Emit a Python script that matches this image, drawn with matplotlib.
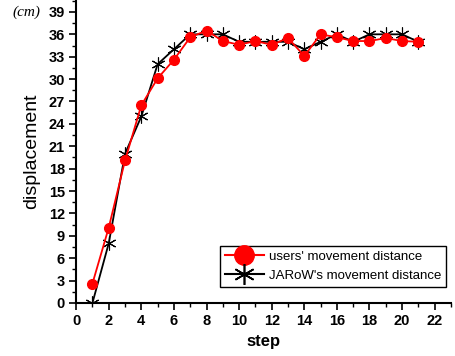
import matplotlib.pyplot as plt
from matplotlib.lines import Line2D
from matplotlib.ticker import MultipleLocator

# step numbers
steps = list(range(1, 22))
# users' movement distance (cm)
users = [2.6, 10.1, 19.1, 26.5, 30.1, 32.6, 35.6, 36.5, 35.1, 34.6, 35.1,
         34.6, 35.5, 33.1, 36.0, 35.6, 35.1, 35.1, 35.5, 35.1, 35.0]
# JARoW's movement distance (cm)
jarow = [0, 8, 20, 25, 32, 34, 36, 36, 36, 35, 35,
         35, 35, 34, 35, 36, 35, 36, 36, 36, 35]

plt.rcParams['font.family'] = ['Liberation Sans', 'DejaVu Sans']

fig = plt.figure(figsize=(4.56, 3.56), dpi=100)
ax = fig.add_axes([0.167, 0.149, 0.822, 0.851])

ax.plot(steps, jarow, color='black', lw=1.3, marker=(6, 2, 0), ms=10,
        mew=0.8, zorder=3)
ax.plot(steps, users, color='#ff0000', lw=1.3, marker='o', ms=7,
        mec='#ff0000', zorder=4)

ax.set_xlim(0, 23)
ax.set_ylim(0, 40.6)
ax.xaxis.set_major_locator(MultipleLocator(2))
ax.xaxis.set_minor_locator(MultipleLocator(1))
ax.yaxis.set_major_locator(MultipleLocator(3))
ax.yaxis.set_minor_locator(MultipleLocator(1.5))
ax.tick_params(which='major', direction='out', length=5, width=1.2,
               labelsize=10.5, pad=3)
ax.tick_params(which='minor', direction='out', length=3, width=1)
for lab in ax.get_xticklabels() + ax.get_yticklabels():
    lab.set_fontweight('bold')

for s in ['top', 'right']:
    ax.spines[s].set_visible(False)
for s in ['left', 'bottom']:
    ax.spines[s].set_linewidth(1.5)

ax.set_xlabel('step', fontsize=12, fontweight='bold', labelpad=4)
ax.set_ylabel('displacement', fontsize=14, labelpad=6)
fig.text(0.027, 0.966, '(cm)', fontsize=11, style='italic',
         family='Liberation Serif', va='center')

handles = [
    Line2D([], [], color='#ff0000', lw=1.5, marker='o', ms=14),
    Line2D([], [], color='black', lw=1.5, marker=(6, 2, 0), ms=15, mew=1.2),
]
leg = ax.legend(handles, ["users' movement distance",
                          "JARoW's movement distance"],
                loc='lower right', bbox_to_anchor=(0.995, 0.045),
                fontsize=9.5, fancybox=False, edgecolor='black',
                framealpha=1, handlelength=3.0, borderpad=0.35,
                labelspacing=0.55, handletextpad=0.4, borderaxespad=0.2)
leg.get_frame().set_linewidth(1.0)

fig.savefig('out.png', dpi=100)
